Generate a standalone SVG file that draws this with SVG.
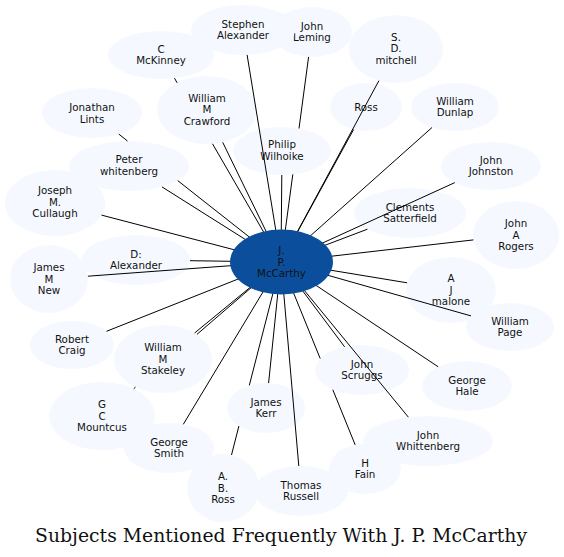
<svg xmlns="http://www.w3.org/2000/svg" width="564" height="557" viewBox="0 0 564 557">
<style>
.n ellipse{fill:#f5f9ff;stroke:none}
.n text,.c text{font-family:"DejaVu Sans",sans-serif;font-size:10.3px;fill:#111;text-anchor:middle}
.c ellipse{fill:#0b4f9c;stroke:none}
#connectors path{fill:none;stroke:#000;stroke-width:1}
.title{font-family:"DejaVu Serif",serif;font-size:18.8px;fill:#111;text-anchor:middle}
</style>
<rect width="564" height="557" fill="#fff"/>
<g id="nodes">
<g id="n-leming" class="n"><ellipse cx="312" cy="32" rx="40" ry="25"/><text x="312" y="29.9">John</text><text x="312" y="41.4">Leming</text></g>
<g id="n-stephen" class="n"><ellipse cx="243" cy="30" rx="52" ry="25"/><text x="243" y="27.9">Stephen</text><text x="243" y="39.4">Alexander</text></g>
<g id="n-mitchell" class="n"><ellipse cx="396" cy="49" rx="47" ry="34"/><text x="396" y="40.7">S.</text><text x="396" y="52.2">D.</text><text x="396" y="63.7">mitchell</text></g>
<g id="n-mckinney" class="n"><ellipse cx="161" cy="55" rx="53" ry="24"/><text x="161" y="52.9">C</text><text x="161" y="64.4">McKinney</text></g>
<g id="n-crawford" class="n"><ellipse cx="207" cy="110" rx="50" ry="34"/><text x="207" y="101.7">William</text><text x="207" y="113.2">M</text><text x="207" y="124.7">Crawford</text></g>
<g id="n-lints" class="n"><ellipse cx="92" cy="113" rx="50" ry="25"/><text x="92" y="111.4">Jonathan</text><text x="92" y="122.9">Lints</text></g>
<g id="n-peter" class="n"><ellipse cx="129" cy="166" rx="60" ry="25"/><text x="129" y="163.4">Peter</text><text x="129" y="174.9">whitenberg</text></g>
<g id="n-philip" class="n"><ellipse cx="282" cy="151" rx="49" ry="24"/><text x="282" y="148">Philip</text><text x="282" y="159.5">Wilhoike</text></g>
<g id="n-ross" class="n"><ellipse cx="366" cy="107" rx="36" ry="24"/><text x="366" y="110.7">Ross</text></g>
<g id="n-dunlap" class="n"><ellipse cx="455" cy="107" rx="44" ry="24"/><text x="455" y="104.9">William</text><text x="455" y="116.4">Dunlap</text></g>
<g id="n-johnston" class="n"><ellipse cx="491" cy="166" rx="50" ry="24"/><text x="491" y="163.9">John</text><text x="491" y="175.4">Johnston</text></g>
<g id="n-joseph" class="n"><ellipse cx="55" cy="203" rx="50" ry="33"/><text x="55" y="194.2">Joseph</text><text x="55" y="205.7">M.</text><text x="55" y="217.2">Cullaugh</text></g>
<g id="n-dalexander" class="n"><ellipse cx="136" cy="260" rx="54" ry="25"/><text x="136" y="257.9">D:</text><text x="136" y="269.4">Alexander</text></g>
<g id="n-jamesnew" class="n"><ellipse cx="49" cy="279" rx="39" ry="34"/><text x="49" y="271.2">James</text><text x="49" y="282.7">M</text><text x="49" y="294.2">New</text></g>
<g id="n-clements" class="n"><ellipse cx="410" cy="213" rx="56" ry="25"/><text x="410" y="210.9">Clements</text><text x="410" y="222.4">Satterfield</text></g>
<g id="n-rogers" class="n"><ellipse cx="516" cy="235" rx="43" ry="34"/><text x="516" y="227.2">John</text><text x="516" y="238.7">A</text><text x="516" y="250.2">Rogers</text></g>
<g id="n-malone" class="n"><ellipse cx="451" cy="290" rx="45" ry="33"/><text x="451" y="282.2">A</text><text x="451" y="293.7">J</text><text x="451" y="305.2">malone</text></g>
<g id="n-page" class="n"><ellipse cx="510" cy="327" rx="44" ry="24"/><text x="510" y="324.9">William</text><text x="510" y="336.4">Page</text></g>
<g id="n-craig" class="n"><ellipse cx="72" cy="345" rx="42" ry="24"/><text x="72" y="342.9">Robert</text><text x="72" y="354.4">Craig</text></g>
<g id="n-stakeley" class="n"><ellipse cx="163" cy="359" rx="49" ry="34"/><text x="163" y="351.2">William</text><text x="163" y="362.7">M</text><text x="163" y="374.2">Stakeley</text></g>
<g id="n-mountcus" class="n"><ellipse cx="102" cy="416" rx="53" ry="34"/><text x="102" y="408.2">G</text><text x="102" y="419.7">C</text><text x="102" y="431.2">Mountcus</text></g>
<g id="n-gsmith" class="n"><ellipse cx="169" cy="448" rx="45" ry="25"/><text x="169" y="445.9">George</text><text x="169" y="457.4">Smith</text></g>
<g id="n-abross" class="n"><ellipse cx="223" cy="488" rx="36" ry="34"/><text x="223" y="480.2">A.</text><text x="223" y="491.7">B.</text><text x="223" y="503.2">Ross</text></g>
<g id="n-kerr" class="n"><ellipse cx="266" cy="408" rx="39" ry="25"/><text x="266" y="405.9">James</text><text x="266" y="417.4">Kerr</text></g>
<g id="n-russell" class="n"><ellipse cx="301" cy="491" rx="47" ry="25"/><text x="301" y="488.9">Thomas</text><text x="301" y="500.4">Russell</text></g>
<g id="n-whittenberg" class="n"><ellipse cx="428" cy="441" rx="65" ry="25"/><text x="428" y="438.9">John</text><text x="428" y="450.4">Whittenberg</text></g>
<g id="n-fain" class="n"><ellipse cx="365" cy="469" rx="36" ry="25"/><text x="365" y="466.9">H</text><text x="365" y="478.4">Fain</text></g>
<g id="n-scruggs" class="n"><ellipse cx="362" cy="370" rx="47" ry="25"/><text x="362" y="367.9">John</text><text x="362" y="379.4">Scruggs</text></g>
<g id="n-hale" class="n"><ellipse cx="467" cy="386" rx="45" ry="25"/><text x="467" y="383.9">George</text><text x="467" y="395.4">Hale</text></g>
</g>
<g id="connectors">
<path d="M281,262 L247.1,54.9"/>
<path d="M281,262 L292.8,174.4 M299,128.5 L308.6,56.9"/>
<path d="M281,262 L378.9,80.7"/>
<path d="M281,262 L353.6,129.5"/>
<path d="M281,262 L212.5,143.8 M177.1,82.8 L174.5,78.2"/>
<path d="M281,262 L222.7,142.3"/>
<path d="M281,262 L177.7,180.6 M127.5,141 L118.8,134.1"/>
<path d="M281,262 L162,186.9"/>
<path d="M281,262 L281.8,175"/>
<path d="M281,262 L432,127.5"/>
<path d="M281,262 L454.8,182.6"/>
<path d="M281,262 L367.4,229.2"/>
<path d="M281,262 L473.4,239.9"/>
<path d="M281,262 L407.1,282.8"/>
<path d="M281,262 L471,315.9"/>
<path d="M281,262 L438.2,366.8"/>
<path d="M281,262 L408.4,417.2"/>
<path d="M281,262 L344.6,346.8"/>
<path d="M281,262 L320.2,358.5 M332.8,389.7 L355.2,444.9"/>
<path d="M281,262 L298.8,466"/>
<path d="M281,262 L268.6,383.1"/>
<path d="M281,262 L249.3,385.4 M238.9,426 L231.5,455"/>
<path d="M281,262 L183.3,424.3"/>
<path d="M281,262 L196.9,334.4 M135.5,387.2 L133.7,388.7"/>
<path d="M281,262 L194.6,333"/>
<path d="M281,262 L106.5,331.3"/>
<path d="M281,262 L87.9,276.2"/>
<path d="M281,262 L190,260.7"/>
<path d="M281,262 L101.5,215.1"/>
</g>
<g id="n-mccarthy" class="c"><ellipse cx="281.5" cy="262" rx="51.5" ry="32.5"/><text x="281.5" y="254.2">J.</text><text x="281.5" y="265.7">P.</text><text x="281.5" y="277.2">McCarthy</text></g>
<text class="title" x="281" y="542" textLength="492">Subjects Mentioned Frequently With J. P. McCarthy</text>
</svg>
